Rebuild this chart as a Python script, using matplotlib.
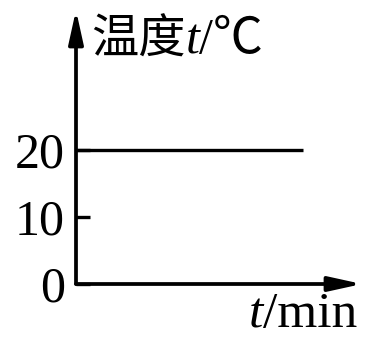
import matplotlib
matplotlib.use("Agg")
import matplotlib.pyplot as plt

# data
t_min = [0, 8]
temp = [20, 20]
yticks = [0, 10, 20]
ytick_labels = ["0", "10", "20"]

serif = ["Liberation Serif", "Noto Sans CJK SC"]
cjk = ["Noto Sans CJK SC", "DejaVu Sans"]

fig = plt.figure(figsize=(3.68, 3.39), dpi=100)
ax = fig.add_axes([76 / 368, 55 / 339, 286 / 368, 274 / 339])
ax.set_xlim(0, 10.1)
ax.set_ylim(0, 40.9)

for s in ax.spines.values():
    s.set_visible(False)

# axes drawn as arrows
arrow = dict(arrowstyle="-|>,head_length=1.0,head_width=0.22", lw=2.7,
             color="k", shrinkA=0, shrinkB=0, mutation_scale=20)
ax.annotate("", xy=(0, 1), xytext=(0, 0), xycoords="axes fraction", arrowprops=arrow)
ax.annotate("", xy=(1, 0), xytext=(0, 0), xycoords="axes fraction", arrowprops=arrow)

ax.plot(t_min, temp, color="k", lw=2.4, solid_capstyle="butt")

ax.set_xticks([])
ax.set_yticks(yticks)
ax.set_yticklabels(ytick_labels, fontfamily=serif, fontsize=36)
ax.tick_params(axis="y", direction="in", length=10, width=2.4, pad=8)

# y label: 温度t/℃
t1 = fig.text(91 / 368, 1 - 40 / 339, "温度", family=cjk, fontsize=34, va="center")
t2 = ax.annotate("t", xy=(1, 0), xycoords=t1, family=serif, style="italic",
                 fontsize=36, va="bottom", annotation_clip=False)
ax.annotate("/℃", xy=(1, 0), xycoords=t2, family=serif, fontsize=36,
            va="bottom", annotation_clip=False)

# x label: t/min
t3 = fig.text(249 / 368, 1 - 327 / 339, "t", family=serif, style="italic",
              fontsize=37, va="baseline")
ax.annotate("/min", xy=(1, 0), xycoords=t3, family=serif, fontsize=37,
            va="bottom", annotation_clip=False)

fig.savefig("out.png", dpi=100)
